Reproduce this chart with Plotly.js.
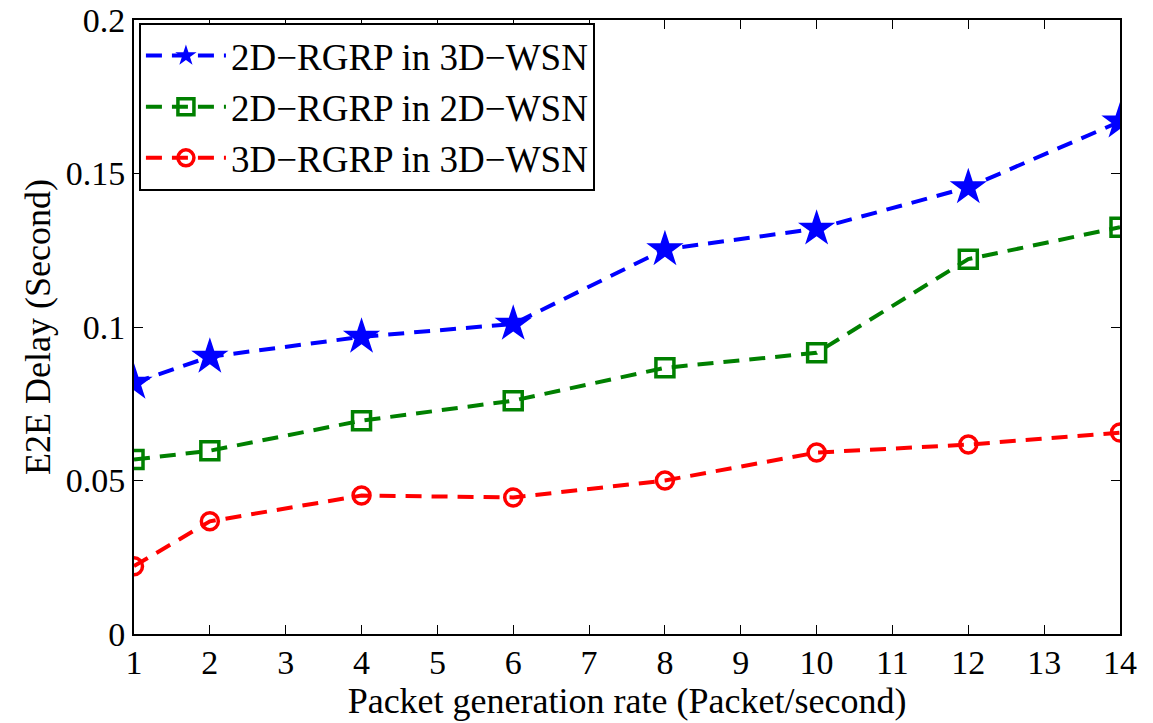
<!DOCTYPE html>
<html><head><meta charset="utf-8">
<script src="https://cdn.plot.ly/plotly-3.0.1.min.js"></script>
<style>body{margin:0;background:#fff}#c{width:1153px;height:723px}</style>
</head><body><div id="c"></div>
<script>
const xRate = [1, 2, 4, 6, 8, 10, 12, 14];
const rgrp2dIn3d = [0.0818, 0.0903, 0.0968, 0.1010, 0.1253, 0.1320, 0.1455, 0.1669];
const rgrp2dIn2d = [0.0568, 0.0597, 0.0695, 0.0760, 0.0867, 0.0916, 0.1221, 0.1325];
const rgrp3dIn3d = [0.0221, 0.0367, 0.0451, 0.0445, 0.0500, 0.0591, 0.0617, 0.0656];
const names = ['2D\u2212RGRP in 3D\u2212WSN', '2D\u2212RGRP in 2D\u2212WSN', '3D\u2212RGRP in 3D\u2212WSN'];
const xTicks = [1,2,3,4,5,6,7,8,9,10,11,12,13,14];
const yTicks = [0, 0.05, 0.1, 0.15, 0.2];
const yTickText = ['0', '0.05', '0.1', '0.15', '0.2'];

const dash = '16px,10px';
const traces = [
  {x: xRate, y: rgrp2dIn3d, name: names[0], mode: 'lines+markers',
   line: {color: '#0000ff', width: 4, dash: dash},
   marker: {symbol: 'star', size: 28, color: '#0000ff'}},
  {x: xRate, y: rgrp2dIn2d, name: names[1], mode: 'lines+markers',
   line: {color: '#008000', width: 4, dash: dash},
   marker: {symbol: 'square-open', size: 18, color: '#008000', line: {width: 3.5, color: '#008000'}}},
  {x: xRate, y: rgrp3dIn3d, name: names[2], mode: 'lines+markers',
   line: {color: '#ff0000', width: 4, dash: dash},
   marker: {symbol: 'circle-open', size: 17, color: '#ff0000', line: {width: 3.5, color: '#ff0000'}}}
];
const font = {family: '"Liberation Serif", "Times New Roman", serif', color: '#000'};
const layout = {
  width: 1153, height: 723,
  margin: {l: 134, r: 33, t: 20, b: 89},
  paper_bgcolor: '#fff', plot_bgcolor: '#fff',
  font: Object.assign({size: 35}, font),
  showlegend: true,
  legend: {x: 0.005, y: 0.995, xanchor: 'left', yanchor: 'top',
    bordercolor: '#000', borderwidth: 2, bgcolor: '#fff',
    font: Object.assign({size: 37}, font), tracegroupgap: 0, itemwidth: 80},
  xaxis: {range: [1, 14], tickvals: xTicks, ticks: 'inside', ticklen: 9, tickwidth: 1,
    tickcolor: '#000', showline: true, linecolor: '#000', linewidth: 2, mirror: 'ticks',
    showgrid: false, zeroline: false, tickfont: Object.assign({size: 34}, font),
    ticklabelstandoff: -3, ticklabeloverflow: 'allow',
    title: {text: 'Packet generation rate (Packet/second)', font: Object.assign({size: 36}, font), standoff: 0}},
  yaxis: {range: [0, 0.2], tickvals: yTicks, ticktext: yTickText, ticks: 'inside', ticklen: 9, tickwidth: 1,
    tickcolor: '#000', showline: true, linecolor: '#000', linewidth: 2, mirror: 'ticks',
    showgrid: false, zeroline: false, tickfont: Object.assign({size: 34}, font),
    ticklabeloverflow: 'allow',
    title: {text: 'E2E Delay (Second)', font: Object.assign({size: 36}, font), standoff: 4}}
};
Plotly.newPlot('c', traces, layout, {displayModeBar: false});
</script></body></html>
